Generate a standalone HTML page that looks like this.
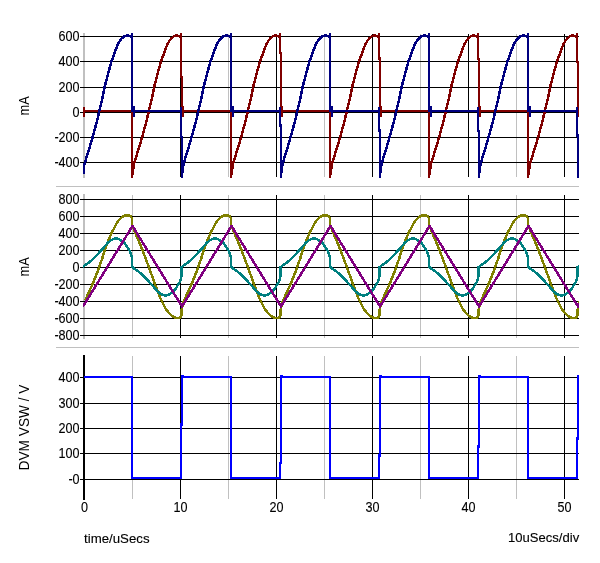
<!DOCTYPE html>
<html><head><meta charset="utf-8"><title>Waveforms</title>
<style>html,body{margin:0;padding:0;background:#fff;} svg{display:block;}</style>
</head><body>
<svg width="600" height="563" viewBox="0 0 600 563">
<defs>
<clipPath id="c1"><rect x="83" y="30" width="496" height="150"/></clipPath>
<clipPath id="c2"><rect x="83" y="190" width="496" height="152"/></clipPath>
<clipPath id="c3"><rect x="83" y="350" width="496" height="152"/></clipPath>
</defs>
<g shape-rendering="crispEdges">
<rect x="56" y="186" width="523" height="1" fill="#c0c0c0"/>
<rect x="56" y="347" width="523" height="1" fill="#c0c0c0"/>
<rect x="83" y="33" width="2" height="145" fill="#c0c0c0"/>
<rect x="132" y="34" width="1" height="143" fill="#c0c0c0"/>
<rect x="228" y="34" width="1" height="143" fill="#c0c0c0"/>
<rect x="324" y="34" width="1" height="143" fill="#c0c0c0"/>
<rect x="420" y="34" width="1" height="143" fill="#c0c0c0"/>
<rect x="516" y="34" width="1" height="143" fill="#c0c0c0"/>
<rect x="180" y="34" width="1" height="143" fill="#000"/>
<rect x="276" y="34" width="1" height="143" fill="#000"/>
<rect x="372" y="34" width="1" height="143" fill="#000"/>
<rect x="468" y="34" width="1" height="143" fill="#000"/>
<rect x="564" y="34" width="1" height="143" fill="#000"/>
<rect x="80" y="36" width="499" height="1" fill="#000"/>
<rect x="80" y="61" width="499" height="1" fill="#000"/>
<rect x="80" y="87" width="499" height="1" fill="#000"/>
<rect x="80" y="112" width="499" height="1" fill="#000"/>
<rect x="80" y="137" width="499" height="1" fill="#000"/>
<rect x="80" y="162" width="499" height="1" fill="#000"/>
<rect x="83" y="194" width="2" height="145" fill="#c0c0c0"/>
<rect x="132" y="195" width="1" height="143" fill="#c0c0c0"/>
<rect x="228" y="195" width="1" height="143" fill="#c0c0c0"/>
<rect x="324" y="195" width="1" height="143" fill="#c0c0c0"/>
<rect x="420" y="195" width="1" height="143" fill="#c0c0c0"/>
<rect x="516" y="195" width="1" height="143" fill="#c0c0c0"/>
<rect x="180" y="195" width="1" height="143" fill="#000"/>
<rect x="276" y="195" width="1" height="143" fill="#000"/>
<rect x="372" y="195" width="1" height="143" fill="#000"/>
<rect x="468" y="195" width="1" height="143" fill="#000"/>
<rect x="564" y="195" width="1" height="143" fill="#000"/>
<rect x="80" y="199" width="499" height="1" fill="#000"/>
<rect x="80" y="216" width="499" height="1" fill="#000"/>
<rect x="80" y="233" width="499" height="1" fill="#000"/>
<rect x="80" y="250" width="499" height="1" fill="#000"/>
<rect x="80" y="267" width="499" height="1" fill="#000"/>
<rect x="80" y="284" width="499" height="1" fill="#000"/>
<rect x="80" y="301" width="499" height="1" fill="#000"/>
<rect x="80" y="318" width="499" height="1" fill="#000"/>
<rect x="80" y="335" width="499" height="1" fill="#000"/>
<rect x="83" y="355" width="2" height="145" fill="#000000"/>
<rect x="132" y="356" width="1" height="143" fill="#c0c0c0"/>
<rect x="228" y="356" width="1" height="143" fill="#c0c0c0"/>
<rect x="324" y="356" width="1" height="143" fill="#c0c0c0"/>
<rect x="420" y="356" width="1" height="143" fill="#c0c0c0"/>
<rect x="516" y="356" width="1" height="143" fill="#c0c0c0"/>
<rect x="180" y="356" width="1" height="143" fill="#000"/>
<rect x="276" y="356" width="1" height="143" fill="#000"/>
<rect x="372" y="356" width="1" height="143" fill="#000"/>
<rect x="468" y="356" width="1" height="143" fill="#000"/>
<rect x="564" y="356" width="1" height="143" fill="#000"/>
<rect x="80" y="377" width="499" height="1" fill="#000"/>
<rect x="80" y="403" width="499" height="1" fill="#000"/>
<rect x="80" y="428" width="499" height="1" fill="#000"/>
<rect x="80" y="453" width="499" height="1" fill="#000"/>
<rect x="80" y="479" width="499" height="1" fill="#000"/>
</g>
<g fill="none" stroke-width="2.5" stroke-linejoin="round" stroke-linecap="butt" shape-rendering="crispEdges">
<g clip-path="url(#c1)">
<path d="M84 107 L84 115.5 L84 111 L84 111 L132 111 L132 111 L132 176.5 L133 170.54 L133.5 167.24 L134 163.95 L134.5 162.27 L135 160.59 L135.5 158.91 L136 157.23 L136.5 155.66 L137 154.09 L137.5 152.52 L138 150.95 L138.5 149.38 L139 147.68 L139.5 145.99 L140 144.29 L140.5 142.6 L141 140.9 L141.5 139.21 L142 137.51 L142.5 135.82 L143 133.96 L143.5 132.11 L144 130.25 L144.5 128.39 L145 126.54 L145.5 124.68 L146 122.83 L146.5 120.97 L147 118.96 L147.5 116.73 L148 114.49 L148.5 112.26 L149 110.19 L149.5 108.22 L150 106.25 L150.5 104.29 L151 102.32 L151.5 100.36 L152 97.92 L152.5 95.35 L153 92.79 L153.5 90.23 L154 87.67 L154.5 85.7 L155 83.73 L155.5 81.76 L156 79.79 L156.5 77.82 L157 75.85 L157.5 73.88 L158 72.05 L158.5 70.26 L159 68.47 L159.5 66.69 L160 64.9 L160.5 63.11 L161 61.32 L161.5 60.01 L162 58.7 L162.5 57.39 L163 56.08 L163.5 54.77 L164 53.46 L164.5 51.72 L165 49.98 L165.5 48.87 L166 47.69 L166.5 46.5 L167 45.32 L167.5 44.14 L168 43.27 L168.5 42.41 L169 41.55 L169.5 40.69 L170 39.83 L170.5 39.44 L171 38.75 L171.5 38.27 L172 37.85 L172.5 37.42 L173 37 L173.5 36.64 L174 36.33 L174.5 36.01 L175 35.86 L175.5 35.76 L176 35.65 L176.5 35.58 L177 35.63 L177.5 35.68 L178 35.73 L178.5 35.78 L179 35.85 L179.5 36.01 L180 36.17 L179.5 36.6 L180.4 36.6 M181 33.1 L181 77 L182 77 L182 111 L183 111 L183 107 L183 116 L183 111 L181 111 L231 111 L231 111 L231 176.5 L232 170.54 L232.5 167.24 L233 163.95 L233.5 162.27 L234 160.59 L234.5 158.91 L235 157.23 L235.5 155.66 L236 154.09 L236.5 152.52 L237 150.95 L237.5 149.38 L238 147.68 L238.5 145.99 L239 144.29 L239.5 142.6 L240 140.9 L240.5 139.21 L241 137.51 L241.5 135.82 L242 133.96 L242.5 132.11 L243 130.25 L243.5 128.39 L244 126.54 L244.5 124.68 L245 122.83 L245.5 120.97 L246 118.96 L246.5 116.73 L247 114.49 L247.5 112.26 L248 110.19 L248.5 108.22 L249 106.25 L249.5 104.29 L250 102.32 L250.5 100.36 L251 97.92 L251.5 95.35 L252 92.79 L252.5 90.23 L253 87.67 L253.5 85.7 L254 83.73 L254.5 81.76 L255 79.79 L255.5 77.82 L256 75.85 L256.5 73.88 L257 72.05 L257.5 70.26 L258 68.47 L258.5 66.69 L259 64.9 L259.5 63.11 L260 61.32 L260.5 60.01 L261 58.7 L261.5 57.39 L262 56.08 L262.5 54.77 L263 53.46 L263.5 51.72 L264 49.98 L264.5 48.87 L265 47.69 L265.5 46.5 L266 45.32 L266.5 44.14 L267 43.27 L267.5 42.41 L268 41.55 L268.5 40.69 L269 39.83 L269.5 39.44 L270 38.75 L270.5 38.27 L271 37.85 L271.5 37.42 L272 37 L272.5 36.64 L273 36.33 L273.5 36.01 L274 35.86 L274.5 35.76 L275 35.65 L275.5 35.58 L276 35.63 L276.5 35.68 L277 35.73 L277.5 35.78 L278 35.85 L278.5 36.01 L279 36.17 L278.5 36.6 L279.4 36.6 M280 33.1 L280 53 L281 53 L281 111 L282 111 L282 107 L282 116 L282 111 L280 111 L330 111 L330 111 L330 176.5 L331 170.54 L331.5 167.24 L332 163.95 L332.5 162.27 L333 160.59 L333.5 158.91 L334 157.23 L334.5 155.66 L335 154.09 L335.5 152.52 L336 150.95 L336.5 149.38 L337 147.68 L337.5 145.99 L338 144.29 L338.5 142.6 L339 140.9 L339.5 139.21 L340 137.51 L340.5 135.82 L341 133.96 L341.5 132.11 L342 130.25 L342.5 128.39 L343 126.54 L343.5 124.68 L344 122.83 L344.5 120.97 L345 118.96 L345.5 116.73 L346 114.49 L346.5 112.26 L347 110.19 L347.5 108.22 L348 106.25 L348.5 104.29 L349 102.32 L349.5 100.36 L350 97.92 L350.5 95.35 L351 92.79 L351.5 90.23 L352 87.67 L352.5 85.7 L353 83.73 L353.5 81.76 L354 79.79 L354.5 77.82 L355 75.85 L355.5 73.88 L356 72.05 L356.5 70.26 L357 68.47 L357.5 66.69 L358 64.9 L358.5 63.11 L359 61.32 L359.5 60.01 L360 58.7 L360.5 57.39 L361 56.08 L361.5 54.77 L362 53.46 L362.5 51.72 L363 49.98 L363.5 48.87 L364 47.69 L364.5 46.5 L365 45.32 L365.5 44.14 L366 43.27 L366.5 42.41 L367 41.55 L367.5 40.69 L368 39.83 L368.5 39.44 L369 38.75 L369.5 38.27 L370 37.85 L370.5 37.42 L371 37 L371.5 36.64 L372 36.33 L372.5 36.01 L373 35.86 L373.5 35.76 L374 35.65 L374.5 35.58 L375 35.63 L375.5 35.68 L376 35.73 L376.5 35.78 L377 35.85 L377.5 36.01 L378 36.17 L377.5 36.6 L378.4 36.6 M379 33.1 L379 58.5 L380 58.5 L380 111 L381 111 L381 107 L381 116 L381 111 L379 111 L429 111 L429 111 L429 176.5 L430 170.54 L430.5 167.24 L431 163.95 L431.5 162.27 L432 160.59 L432.5 158.91 L433 157.23 L433.5 155.66 L434 154.09 L434.5 152.52 L435 150.95 L435.5 149.38 L436 147.68 L436.5 145.99 L437 144.29 L437.5 142.6 L438 140.9 L438.5 139.21 L439 137.51 L439.5 135.82 L440 133.96 L440.5 132.11 L441 130.25 L441.5 128.39 L442 126.54 L442.5 124.68 L443 122.83 L443.5 120.97 L444 118.96 L444.5 116.73 L445 114.49 L445.5 112.26 L446 110.19 L446.5 108.22 L447 106.25 L447.5 104.29 L448 102.32 L448.5 100.36 L449 97.92 L449.5 95.35 L450 92.79 L450.5 90.23 L451 87.67 L451.5 85.7 L452 83.73 L452.5 81.76 L453 79.79 L453.5 77.82 L454 75.85 L454.5 73.88 L455 72.05 L455.5 70.26 L456 68.47 L456.5 66.69 L457 64.9 L457.5 63.11 L458 61.32 L458.5 60.01 L459 58.7 L459.5 57.39 L460 56.08 L460.5 54.77 L461 53.46 L461.5 51.72 L462 49.98 L462.5 48.87 L463 47.69 L463.5 46.5 L464 45.32 L464.5 44.14 L465 43.27 L465.5 42.41 L466 41.55 L466.5 40.69 L467 39.83 L467.5 39.44 L468 38.75 L468.5 38.27 L469 37.85 L469.5 37.42 L470 37 L470.5 36.64 L471 36.33 L471.5 36.01 L472 35.86 L472.5 35.76 L473 35.65 L473.5 35.58 L474 35.63 L474.5 35.68 L475 35.73 L475.5 35.78 L476 35.85 L476.5 36.01 L477 36.17 L476.5 36.6 L477.4 36.6 M478 33.1 L478 59 L479 59 L479 111 L480 111 L480 107 L480 116 L480 111 L478 111 L528 111 L528 111 L528 176.5 L529 170.54 L529.5 167.24 L530 163.95 L530.5 162.27 L531 160.59 L531.5 158.91 L532 157.23 L532.5 155.66 L533 154.09 L533.5 152.52 L534 150.95 L534.5 149.38 L535 147.68 L535.5 145.99 L536 144.29 L536.5 142.6 L537 140.9 L537.5 139.21 L538 137.51 L538.5 135.82 L539 133.96 L539.5 132.11 L540 130.25 L540.5 128.39 L541 126.54 L541.5 124.68 L542 122.83 L542.5 120.97 L543 118.96 L543.5 116.73 L544 114.49 L544.5 112.26 L545 110.19 L545.5 108.22 L546 106.25 L546.5 104.29 L547 102.32 L547.5 100.36 L548 97.92 L548.5 95.35 L549 92.79 L549.5 90.23 L550 87.67 L550.5 85.7 L551 83.73 L551.5 81.76 L552 79.79 L552.5 77.82 L553 75.85 L553.5 73.88 L554 72.05 L554.5 70.26 L555 68.47 L555.5 66.69 L556 64.9 L556.5 63.11 L557 61.32 L557.5 60.01 L558 58.7 L558.5 57.39 L559 56.08 L559.5 54.77 L560 53.46 L560.5 51.72 L561 49.98 L561.5 48.87 L562 47.69 L562.5 46.5 L563 45.32 L563.5 44.14 L564 43.27 L564.5 42.41 L565 41.55 L565.5 40.69 L566 39.83 L566.5 39.44 L567 38.75 L567.5 38.27 L568 37.85 L568.5 37.42 L569 37 L569.5 36.64 L570 36.33 L570.5 36.01 L571 35.86 L571.5 35.76 L572 35.65 L572.5 35.58 L573 35.63 L573.5 35.68 L574 35.73 L574.5 35.78 L575 35.85 L575.5 36.01 L576 36.17 L575.5 36.6 L576.4 36.6 M577 33.1 L577 62 L578 62 L578 111 L579 111 L579 107 L579 116 L579 111 L577 111 L627 111" stroke="#800000"/>
<path d="M84 173.5 L84 166 L85.1 161.93 L85.6 160.25 L86.1 158.57 L86.6 156.92 L87.1 155.35 L87.6 153.78 L88.1 152.2 L88.6 150.63 L89.1 149.04 L89.6 147.34 L90.1 145.65 L90.6 143.95 L91.1 142.26 L91.6 140.56 L92.1 138.87 L92.6 137.18 L93.1 135.45 L93.6 133.59 L94.1 131.74 L94.6 129.88 L95.1 128.02 L95.6 126.17 L96.1 124.31 L96.6 122.45 L97.1 120.6 L97.6 118.52 L98.1 116.28 L98.6 114.05 L99.1 111.81 L99.6 109.79 L100.1 107.83 L100.6 105.86 L101.1 103.9 L101.6 101.93 L102.1 99.96 L102.6 97.4 L103.1 94.84 L103.6 92.28 L104.1 89.72 L104.6 87.28 L105.1 85.31 L105.6 83.34 L106.1 81.37 L106.6 79.4 L107.1 77.42 L107.6 75.45 L108.1 73.48 L108.6 71.69 L109.1 69.91 L109.6 68.12 L110.1 66.33 L110.6 64.54 L111.1 62.75 L111.6 61.06 L112.1 59.75 L112.6 58.44 L113.1 57.13 L113.6 55.82 L114.1 54.51 L114.6 53.12 L115.1 51.37 L115.6 49.93 L116.1 48.64 L116.6 47.45 L117.1 46.27 L117.6 45.08 L118.1 43.96 L118.6 43.1 L119.1 42.24 L119.6 41.38 L120.1 40.52 L120.6 39.99 L121.1 39.3 L121.6 38.61 L122.1 38.18 L122.6 37.76 L123.1 37.34 L123.6 36.92 L124.1 36.58 L124.6 36.26 L125.1 35.95 L125.6 35.84 L126.1 35.74 L126.6 35.63 L127.1 35.59 L127.6 35.64 L128.1 35.69 L128.6 35.74 L129.1 35.79 L129.6 35.88 L130.1 36.04 L130.5 36.6 L131.4 36.6 M132 33.1 L132 111 L134 111 L134 107 L134 116 L134 111 L132 111 L181 111 M181 106.5 L181 137 L182 137 L182 176.5 L182.5 170.54 L183 167.24 L183.5 163.95 L184 162.27 L184.5 160.59 L185 158.91 L185.5 157.23 L186 155.66 L186.5 154.09 L187 152.52 L187.5 150.95 L188 149.38 L188.5 147.68 L189 145.99 L189.5 144.29 L190 142.6 L190.5 140.9 L191 139.21 L191.5 137.51 L192 135.82 L192.5 133.96 L193 132.11 L193.5 130.25 L194 128.39 L194.5 126.54 L195 124.68 L195.5 122.83 L196 120.97 L196.5 118.96 L197 116.73 L197.5 114.49 L198 112.26 L198.5 110.19 L199 108.22 L199.5 106.25 L200 104.29 L200.5 102.32 L201 100.36 L201.5 97.92 L202 95.35 L202.5 92.79 L203 90.23 L203.5 87.67 L204 85.7 L204.5 83.73 L205 81.76 L205.5 79.79 L206 77.82 L206.5 75.85 L207 73.88 L207.5 72.05 L208 70.26 L208.5 68.47 L209 66.69 L209.5 64.9 L210 63.11 L210.5 61.32 L211 60.01 L211.5 58.7 L212 57.39 L212.5 56.08 L213 54.77 L213.5 53.46 L214 51.72 L214.5 49.98 L215 48.87 L215.5 47.69 L216 46.5 L216.5 45.32 L217 44.14 L217.5 43.27 L218 42.41 L218.5 41.55 L219 40.69 L219.5 39.83 L220 39.44 L220.5 38.75 L221 38.27 L221.5 37.85 L222 37.42 L222.5 37 L223 36.64 L223.5 36.33 L224 36.01 L224.5 35.86 L225 35.76 L225.5 35.65 L226 35.58 L226.5 35.63 L227 35.68 L227.5 35.73 L228 35.78 L228.5 35.85 L229 36.01 L229.5 36.17 L229.5 36.6 L230.4 36.6 M231 33.1 L231 111 L233 111 L233 107 L233 116 L233 111 L231 111 L280 111 M280 106.5 L280 125.5 L281 125.5 L281 176.5 L281.5 170.54 L282 167.24 L282.5 163.95 L283 162.27 L283.5 160.59 L284 158.91 L284.5 157.23 L285 155.66 L285.5 154.09 L286 152.52 L286.5 150.95 L287 149.38 L287.5 147.68 L288 145.99 L288.5 144.29 L289 142.6 L289.5 140.9 L290 139.21 L290.5 137.51 L291 135.82 L291.5 133.96 L292 132.11 L292.5 130.25 L293 128.39 L293.5 126.54 L294 124.68 L294.5 122.83 L295 120.97 L295.5 118.96 L296 116.73 L296.5 114.49 L297 112.26 L297.5 110.19 L298 108.22 L298.5 106.25 L299 104.29 L299.5 102.32 L300 100.36 L300.5 97.92 L301 95.35 L301.5 92.79 L302 90.23 L302.5 87.67 L303 85.7 L303.5 83.73 L304 81.76 L304.5 79.79 L305 77.82 L305.5 75.85 L306 73.88 L306.5 72.05 L307 70.26 L307.5 68.47 L308 66.69 L308.5 64.9 L309 63.11 L309.5 61.32 L310 60.01 L310.5 58.7 L311 57.39 L311.5 56.08 L312 54.77 L312.5 53.46 L313 51.72 L313.5 49.98 L314 48.87 L314.5 47.69 L315 46.5 L315.5 45.32 L316 44.14 L316.5 43.27 L317 42.41 L317.5 41.55 L318 40.69 L318.5 39.83 L319 39.44 L319.5 38.75 L320 38.27 L320.5 37.85 L321 37.42 L321.5 37 L322 36.64 L322.5 36.33 L323 36.01 L323.5 35.86 L324 35.76 L324.5 35.65 L325 35.58 L325.5 35.63 L326 35.68 L326.5 35.73 L327 35.78 L327.5 35.85 L328 36.01 L328.5 36.17 L328.5 36.6 L329.4 36.6 M330 33.1 L330 111 L332 111 L332 107 L332 116 L332 111 L330 111 L379 111 M379 106.5 L379 130.5 L380 130.5 L380 176.5 L380.5 170.54 L381 167.24 L381.5 163.95 L382 162.27 L382.5 160.59 L383 158.91 L383.5 157.23 L384 155.66 L384.5 154.09 L385 152.52 L385.5 150.95 L386 149.38 L386.5 147.68 L387 145.99 L387.5 144.29 L388 142.6 L388.5 140.9 L389 139.21 L389.5 137.51 L390 135.82 L390.5 133.96 L391 132.11 L391.5 130.25 L392 128.39 L392.5 126.54 L393 124.68 L393.5 122.83 L394 120.97 L394.5 118.96 L395 116.73 L395.5 114.49 L396 112.26 L396.5 110.19 L397 108.22 L397.5 106.25 L398 104.29 L398.5 102.32 L399 100.36 L399.5 97.92 L400 95.35 L400.5 92.79 L401 90.23 L401.5 87.67 L402 85.7 L402.5 83.73 L403 81.76 L403.5 79.79 L404 77.82 L404.5 75.85 L405 73.88 L405.5 72.05 L406 70.26 L406.5 68.47 L407 66.69 L407.5 64.9 L408 63.11 L408.5 61.32 L409 60.01 L409.5 58.7 L410 57.39 L410.5 56.08 L411 54.77 L411.5 53.46 L412 51.72 L412.5 49.98 L413 48.87 L413.5 47.69 L414 46.5 L414.5 45.32 L415 44.14 L415.5 43.27 L416 42.41 L416.5 41.55 L417 40.69 L417.5 39.83 L418 39.44 L418.5 38.75 L419 38.27 L419.5 37.85 L420 37.42 L420.5 37 L421 36.64 L421.5 36.33 L422 36.01 L422.5 35.86 L423 35.76 L423.5 35.65 L424 35.58 L424.5 35.63 L425 35.68 L425.5 35.73 L426 35.78 L426.5 35.85 L427 36.01 L427.5 36.17 L427.5 36.6 L428.4 36.6 M429 33.1 L429 111 L431 111 L431 107 L431 116 L431 111 L429 111 L478 111 M478 106.5 L478 131 L479 131 L479 176.5 L479.5 170.54 L480 167.24 L480.5 163.95 L481 162.27 L481.5 160.59 L482 158.91 L482.5 157.23 L483 155.66 L483.5 154.09 L484 152.52 L484.5 150.95 L485 149.38 L485.5 147.68 L486 145.99 L486.5 144.29 L487 142.6 L487.5 140.9 L488 139.21 L488.5 137.51 L489 135.82 L489.5 133.96 L490 132.11 L490.5 130.25 L491 128.39 L491.5 126.54 L492 124.68 L492.5 122.83 L493 120.97 L493.5 118.96 L494 116.73 L494.5 114.49 L495 112.26 L495.5 110.19 L496 108.22 L496.5 106.25 L497 104.29 L497.5 102.32 L498 100.36 L498.5 97.92 L499 95.35 L499.5 92.79 L500 90.23 L500.5 87.67 L501 85.7 L501.5 83.73 L502 81.76 L502.5 79.79 L503 77.82 L503.5 75.85 L504 73.88 L504.5 72.05 L505 70.26 L505.5 68.47 L506 66.69 L506.5 64.9 L507 63.11 L507.5 61.32 L508 60.01 L508.5 58.7 L509 57.39 L509.5 56.08 L510 54.77 L510.5 53.46 L511 51.72 L511.5 49.98 L512 48.87 L512.5 47.69 L513 46.5 L513.5 45.32 L514 44.14 L514.5 43.27 L515 42.41 L515.5 41.55 L516 40.69 L516.5 39.83 L517 39.44 L517.5 38.75 L518 38.27 L518.5 37.85 L519 37.42 L519.5 37 L520 36.64 L520.5 36.33 L521 36.01 L521.5 35.86 L522 35.76 L522.5 35.65 L523 35.58 L523.5 35.63 L524 35.68 L524.5 35.73 L525 35.78 L525.5 35.85 L526 36.01 L526.5 36.17 L526.5 36.6 L527.4 36.6 M528 33.1 L528 111 L530 111 L530 107 L530 116 L530 111 L528 111 L577 111 M577 106.5 L577 135.5 L578 135.5 L578 176.5 L578.5 170.54 L579 167.24 L579.5 163.95 L580 162.27 L580.5 160.59 L581 158.91 L581.5 157.23 L582 155.66 L582.5 154.09 L583 152.52 L583.5 150.95 L584 149.38 L584.5 147.68 L585 145.99 L585.5 144.29 L586 142.6 L586.5 140.9 L587 139.21 L587.5 137.51 L588 135.82 L588.5 133.96 L589 132.11 L589.5 130.25 L590 128.39 L590.5 126.54 L591 124.68 L591.5 122.83 L592 120.97 L592.5 118.96 L593 116.73 L593.5 114.49 L594 112.26 L594.5 110.19 L595 108.22 L595.5 106.25 L596 104.29 L596.5 102.32 L597 100.36 L597.5 97.92 L598 95.35 L598.5 92.79 L599 90.23 L599.5 87.67 L600 85.7 L600.5 83.73 L601 81.76 L601.5 79.79 L602 77.82 L602.5 75.85 L603 73.88 L603.5 72.05 L604 70.26 L604.5 68.47 L605 66.69 L605.5 64.9 L606 63.11 L606.5 61.32 L607 60.01 L607.5 58.7 L608 57.39 L608.5 56.08 L609 54.77 L609.5 53.46 L610 51.72 L610.5 49.98 L611 48.87 L611.5 47.69 L612 46.5 L612.5 45.32 L613 44.14 L613.5 43.27 L614 42.41 L614.5 41.55 L615 40.69 L615.5 39.83 L616 39.44 L616.5 38.75 L617 38.27 L617.5 37.85 L618 37.42 L618.5 37 L619 36.64 L619.5 36.33 L620 36.01 L620.5 35.86 L621 35.76 L621.5 35.65 L622 35.58 L622.5 35.63 L623 35.68 L623.5 35.73 L624 35.78 L624.5 35.85 L625 36.01 L625.5 36.17 L625.5 36.6 L626.4 36.6 M627 33.1 L627 111 L629 111 L629 107 L629 116 L629 111" stroke="#000080"/>
</g>
<g clip-path="url(#c2)">
<path d="M85 300.72 L85.5 299.6 L86 298.47 L86.5 297.35 L87 296.29 L87.5 295.24 L88 294.18 L88.5 293.13 L89 292.07 L89.5 290.94 L90 289.8 L90.5 288.66 L91 287.53 L91.5 286.39 L92 285.25 L92.5 284.12 L93 282.98 L93.5 281.73 L94 280.49 L94.5 279.24 L95 278 L95.5 276.75 L96 275.51 L96.5 274.26 L97 273.02 L97.5 271.67 L98 270.17 L98.5 268.67 L99 267.17 L99.5 265.78 L100 264.46 L100.5 263.15 L101 261.83 L101.5 260.51 L102 259.19 L102.5 257.55 L103 255.83 L103.5 254.12 L104 252.4 L104.5 250.68 L105 249.36 L105.5 248.04 L106 246.71 L106.5 245.39 L107 244.07 L107.5 242.75 L108 241.42 L108.5 240.2 L109 239 L109.5 237.8 L110 236.6 L110.5 235.4 L111 234.2 L111.5 233 L112 232.12 L112.5 231.24 L113 230.37 L113.5 229.49 L114 228.61 L114.5 227.73 L115 226.56 L115.5 225.39 L116 224.45 L116.5 223.65 L117 222.86 L117.5 222.06 L118 221.27 L118.5 220.69 L119 220.11 L119.5 219.54 L120 218.96 L120.5 218.38 L121 217.92 L121.5 217.45 L122 217.13 L122.5 216.85 L123 216.57 L123.5 216.28 L124 216.04 L124.5 215.83 L125 215.62 L125.5 215.52 L126 215.45 L126.5 215.38 L127 215.33 L127.5 215.36 L128 215.39 L128.5 215.43 L129 215.46 L129.5 215.51 L130 215.87 L130.5 216.23 L131 216.85 L131.5 217.44 L132 218.55 L132 226.84 L132.5 226.33 L133 227.44 L133.5 228.62 L134 229.8 L134.5 230.97 L135 232.15 L135.5 233.33 L136 234.51 L136.5 235.69 L137 236.87 L137.5 238.05 L138 239.22 L138.5 240.44 L139 241.66 L139.5 242.87 L140 244.09 L140.5 245.31 L141 246.52 L141.5 247.74 L142 248.96 L142.5 250.27 L143 251.58 L143.5 252.89 L144 254.2 L144.5 255.52 L145 256.83 L145.5 258.15 L146 259.47 L146.5 260.79 L147 262.11 L147.5 263.43 L148 264.83 L148.5 266.23 L149 267.64 L149.5 269.04 L150 270.44 L150.5 271.85 L151 273.25 L151.5 274.58 L152 275.88 L152.5 277.19 L153 278.49 L153.5 279.88 L154 281.28 L154.5 282.67 L155 284.06 L155.5 285.45 L156 286.85 L156.5 288.24 L157 289.63 L157.5 291 L158 292.25 L158.5 293.51 L159 294.76 L159.5 296.02 L160 297.27 L160.5 298.31 L161 299.35 L161.5 300.39 L162 301.43 L162.5 302.47 L163 303.51 L163.5 304.48 L164 305.46 L164.5 306.44 L165 307.41 L165.5 308.39 L166 309.1 L166.5 309.75 L167 310.4 L167.5 311.05 L168 311.7 L168.5 312.35 L169 312.9 L169.5 313.38 L170 313.86 L170.5 314.34 L171 314.82 L171.5 315.3 L172 315.78 L172.5 316.26 L173 316.74 L173.5 317.1 L174 317.27 L174.5 317.45 L175 317.62 L175.5 317.8 L176 317.98 L176.5 318.06 L177 318 L177.5 317.95 L178 317.89 L178.5 317.83 L179 317.97 L179.5 318.1 L180 317.6 L180.5 317.1 L181 316.14 L181.5 315.06 L181.5 309.93 L182 308.1 L182.5 306.27 L183 304.06 L183.5 301.85 L184 300.72 L184.5 299.6 L185 298.47 L185.5 297.35 L186 296.29 L186.5 295.24 L187 294.18 L187.5 293.13 L188 292.07 L188.5 290.94 L189 289.8 L189.5 288.66 L190 287.53 L190.5 286.39 L191 285.25 L191.5 284.12 L192 282.98 L192.5 281.73 L193 280.49 L193.5 279.24 L194 278 L194.5 276.75 L195 275.51 L195.5 274.26 L196 273.02 L196.5 271.67 L197 270.17 L197.5 268.67 L198 267.17 L198.5 265.78 L199 264.46 L199.5 263.15 L200 261.83 L200.5 260.51 L201 259.19 L201.5 257.55 L202 255.83 L202.5 254.12 L203 252.4 L203.5 250.68 L204 249.36 L204.5 248.04 L205 246.71 L205.5 245.39 L206 244.07 L206.5 242.75 L207 241.42 L207.5 240.2 L208 239 L208.5 237.8 L209 236.6 L209.5 235.4 L210 234.2 L210.5 233 L211 232.12 L211.5 231.24 L212 230.37 L212.5 229.49 L213 228.61 L213.5 227.73 L214 226.56 L214.5 225.39 L215 224.45 L215.5 223.65 L216 222.86 L216.5 222.06 L217 221.27 L217.5 220.69 L218 220.11 L218.5 219.54 L219 218.96 L219.5 218.38 L220 217.92 L220.5 217.45 L221 217.13 L221.5 216.85 L222 216.57 L222.5 216.28 L223 216.04 L223.5 215.83 L224 215.62 L224.5 215.52 L225 215.45 L225.5 215.38 L226 215.33 L226.5 215.36 L227 215.39 L227.5 215.43 L228 215.46 L228.5 215.51 L229 215.87 L229.5 216.23 L230 216.85 L230.5 217.44 L231 218.55 L231 226.84 L231.5 226.33 L232 227.44 L232.5 228.62 L233 229.8 L233.5 230.97 L234 232.15 L234.5 233.33 L235 234.51 L235.5 235.69 L236 236.87 L236.5 238.05 L237 239.22 L237.5 240.44 L238 241.66 L238.5 242.87 L239 244.09 L239.5 245.31 L240 246.52 L240.5 247.74 L241 248.96 L241.5 250.27 L242 251.58 L242.5 252.89 L243 254.2 L243.5 255.52 L244 256.83 L244.5 258.15 L245 259.47 L245.5 260.79 L246 262.11 L246.5 263.43 L247 264.83 L247.5 266.23 L248 267.64 L248.5 269.04 L249 270.44 L249.5 271.85 L250 273.25 L250.5 274.58 L251 275.88 L251.5 277.19 L252 278.49 L252.5 279.88 L253 281.28 L253.5 282.67 L254 284.06 L254.5 285.45 L255 286.85 L255.5 288.24 L256 289.63 L256.5 291 L257 292.25 L257.5 293.51 L258 294.76 L258.5 296.02 L259 297.27 L259.5 298.31 L260 299.35 L260.5 300.39 L261 301.43 L261.5 302.47 L262 303.51 L262.5 304.48 L263 305.46 L263.5 306.44 L264 307.41 L264.5 308.39 L265 309.1 L265.5 309.75 L266 310.4 L266.5 311.05 L267 311.7 L267.5 312.35 L268 312.9 L268.5 313.38 L269 313.86 L269.5 314.34 L270 314.82 L270.5 315.3 L271 315.78 L271.5 316.26 L272 316.74 L272.5 317.1 L273 317.27 L273.5 317.45 L274 317.62 L274.5 317.8 L275 317.98 L275.5 318.06 L276 318 L276.5 317.95 L277 317.89 L277.5 317.83 L278 317.97 L278.5 318.1 L279 317.6 L279.5 317.1 L280 316.14 L280.5 315.06 L280.5 309.93 L281 308.1 L281.5 306.27 L282 304.06 L282.5 301.85 L283 300.72 L283.5 299.6 L284 298.47 L284.5 297.35 L285 296.29 L285.5 295.24 L286 294.18 L286.5 293.13 L287 292.07 L287.5 290.94 L288 289.8 L288.5 288.66 L289 287.53 L289.5 286.39 L290 285.25 L290.5 284.12 L291 282.98 L291.5 281.73 L292 280.49 L292.5 279.24 L293 278 L293.5 276.75 L294 275.51 L294.5 274.26 L295 273.02 L295.5 271.67 L296 270.17 L296.5 268.67 L297 267.17 L297.5 265.78 L298 264.46 L298.5 263.15 L299 261.83 L299.5 260.51 L300 259.19 L300.5 257.55 L301 255.83 L301.5 254.12 L302 252.4 L302.5 250.68 L303 249.36 L303.5 248.04 L304 246.71 L304.5 245.39 L305 244.07 L305.5 242.75 L306 241.42 L306.5 240.2 L307 239 L307.5 237.8 L308 236.6 L308.5 235.4 L309 234.2 L309.5 233 L310 232.12 L310.5 231.24 L311 230.37 L311.5 229.49 L312 228.61 L312.5 227.73 L313 226.56 L313.5 225.39 L314 224.45 L314.5 223.65 L315 222.86 L315.5 222.06 L316 221.27 L316.5 220.69 L317 220.11 L317.5 219.54 L318 218.96 L318.5 218.38 L319 217.92 L319.5 217.45 L320 217.13 L320.5 216.85 L321 216.57 L321.5 216.28 L322 216.04 L322.5 215.83 L323 215.62 L323.5 215.52 L324 215.45 L324.5 215.38 L325 215.33 L325.5 215.36 L326 215.39 L326.5 215.43 L327 215.46 L327.5 215.51 L328 215.87 L328.5 216.23 L329 216.85 L329.5 217.44 L330 218.55 L330 226.84 L330.5 226.33 L331 227.44 L331.5 228.62 L332 229.8 L332.5 230.97 L333 232.15 L333.5 233.33 L334 234.51 L334.5 235.69 L335 236.87 L335.5 238.05 L336 239.22 L336.5 240.44 L337 241.66 L337.5 242.87 L338 244.09 L338.5 245.31 L339 246.52 L339.5 247.74 L340 248.96 L340.5 250.27 L341 251.58 L341.5 252.89 L342 254.2 L342.5 255.52 L343 256.83 L343.5 258.15 L344 259.47 L344.5 260.79 L345 262.11 L345.5 263.43 L346 264.83 L346.5 266.23 L347 267.64 L347.5 269.04 L348 270.44 L348.5 271.85 L349 273.25 L349.5 274.58 L350 275.88 L350.5 277.19 L351 278.49 L351.5 279.88 L352 281.28 L352.5 282.67 L353 284.06 L353.5 285.45 L354 286.85 L354.5 288.24 L355 289.63 L355.5 291 L356 292.25 L356.5 293.51 L357 294.76 L357.5 296.02 L358 297.27 L358.5 298.31 L359 299.35 L359.5 300.39 L360 301.43 L360.5 302.47 L361 303.51 L361.5 304.48 L362 305.46 L362.5 306.44 L363 307.41 L363.5 308.39 L364 309.1 L364.5 309.75 L365 310.4 L365.5 311.05 L366 311.7 L366.5 312.35 L367 312.9 L367.5 313.38 L368 313.86 L368.5 314.34 L369 314.82 L369.5 315.3 L370 315.78 L370.5 316.26 L371 316.74 L371.5 317.1 L372 317.27 L372.5 317.45 L373 317.62 L373.5 317.8 L374 317.98 L374.5 318.06 L375 318 L375.5 317.95 L376 317.89 L376.5 317.83 L377 317.97 L377.5 318.1 L378 317.6 L378.5 317.1 L379 316.14 L379.5 315.06 L379.5 309.93 L380 308.1 L380.5 306.27 L381 304.06 L381.5 301.85 L382 300.72 L382.5 299.6 L383 298.47 L383.5 297.35 L384 296.29 L384.5 295.24 L385 294.18 L385.5 293.13 L386 292.07 L386.5 290.94 L387 289.8 L387.5 288.66 L388 287.53 L388.5 286.39 L389 285.25 L389.5 284.12 L390 282.98 L390.5 281.73 L391 280.49 L391.5 279.24 L392 278 L392.5 276.75 L393 275.51 L393.5 274.26 L394 273.02 L394.5 271.67 L395 270.17 L395.5 268.67 L396 267.17 L396.5 265.78 L397 264.46 L397.5 263.15 L398 261.83 L398.5 260.51 L399 259.19 L399.5 257.55 L400 255.83 L400.5 254.12 L401 252.4 L401.5 250.68 L402 249.36 L402.5 248.04 L403 246.71 L403.5 245.39 L404 244.07 L404.5 242.75 L405 241.42 L405.5 240.2 L406 239 L406.5 237.8 L407 236.6 L407.5 235.4 L408 234.2 L408.5 233 L409 232.12 L409.5 231.24 L410 230.37 L410.5 229.49 L411 228.61 L411.5 227.73 L412 226.56 L412.5 225.39 L413 224.45 L413.5 223.65 L414 222.86 L414.5 222.06 L415 221.27 L415.5 220.69 L416 220.11 L416.5 219.54 L417 218.96 L417.5 218.38 L418 217.92 L418.5 217.45 L419 217.13 L419.5 216.85 L420 216.57 L420.5 216.28 L421 216.04 L421.5 215.83 L422 215.62 L422.5 215.52 L423 215.45 L423.5 215.38 L424 215.33 L424.5 215.36 L425 215.39 L425.5 215.43 L426 215.46 L426.5 215.51 L427 215.87 L427.5 216.23 L428 216.85 L428.5 217.44 L429 218.55 L429 226.84 L429.5 226.33 L430 227.44 L430.5 228.62 L431 229.8 L431.5 230.97 L432 232.15 L432.5 233.33 L433 234.51 L433.5 235.69 L434 236.87 L434.5 238.05 L435 239.22 L435.5 240.44 L436 241.66 L436.5 242.87 L437 244.09 L437.5 245.31 L438 246.52 L438.5 247.74 L439 248.96 L439.5 250.27 L440 251.58 L440.5 252.89 L441 254.2 L441.5 255.52 L442 256.83 L442.5 258.15 L443 259.47 L443.5 260.79 L444 262.11 L444.5 263.43 L445 264.83 L445.5 266.23 L446 267.64 L446.5 269.04 L447 270.44 L447.5 271.85 L448 273.25 L448.5 274.58 L449 275.88 L449.5 277.19 L450 278.49 L450.5 279.88 L451 281.28 L451.5 282.67 L452 284.06 L452.5 285.45 L453 286.85 L453.5 288.24 L454 289.63 L454.5 291 L455 292.25 L455.5 293.51 L456 294.76 L456.5 296.02 L457 297.27 L457.5 298.31 L458 299.35 L458.5 300.39 L459 301.43 L459.5 302.47 L460 303.51 L460.5 304.48 L461 305.46 L461.5 306.44 L462 307.41 L462.5 308.39 L463 309.1 L463.5 309.75 L464 310.4 L464.5 311.05 L465 311.7 L465.5 312.35 L466 312.9 L466.5 313.38 L467 313.86 L467.5 314.34 L468 314.82 L468.5 315.3 L469 315.78 L469.5 316.26 L470 316.74 L470.5 317.1 L471 317.27 L471.5 317.45 L472 317.62 L472.5 317.8 L473 317.98 L473.5 318.06 L474 318 L474.5 317.95 L475 317.89 L475.5 317.83 L476 317.97 L476.5 318.1 L477 317.6 L477.5 317.1 L478 316.14 L478.5 315.06 L478.5 309.93 L479 308.1 L479.5 306.27 L480 304.06 L480.5 301.85 L481 300.72 L481.5 299.6 L482 298.47 L482.5 297.35 L483 296.29 L483.5 295.24 L484 294.18 L484.5 293.13 L485 292.07 L485.5 290.94 L486 289.8 L486.5 288.66 L487 287.53 L487.5 286.39 L488 285.25 L488.5 284.12 L489 282.98 L489.5 281.73 L490 280.49 L490.5 279.24 L491 278 L491.5 276.75 L492 275.51 L492.5 274.26 L493 273.02 L493.5 271.67 L494 270.17 L494.5 268.67 L495 267.17 L495.5 265.78 L496 264.46 L496.5 263.15 L497 261.83 L497.5 260.51 L498 259.19 L498.5 257.55 L499 255.83 L499.5 254.12 L500 252.4 L500.5 250.68 L501 249.36 L501.5 248.04 L502 246.71 L502.5 245.39 L503 244.07 L503.5 242.75 L504 241.42 L504.5 240.2 L505 239 L505.5 237.8 L506 236.6 L506.5 235.4 L507 234.2 L507.5 233 L508 232.12 L508.5 231.24 L509 230.37 L509.5 229.49 L510 228.61 L510.5 227.73 L511 226.56 L511.5 225.39 L512 224.45 L512.5 223.65 L513 222.86 L513.5 222.06 L514 221.27 L514.5 220.69 L515 220.11 L515.5 219.54 L516 218.96 L516.5 218.38 L517 217.92 L517.5 217.45 L518 217.13 L518.5 216.85 L519 216.57 L519.5 216.28 L520 216.04 L520.5 215.83 L521 215.62 L521.5 215.52 L522 215.45 L522.5 215.38 L523 215.33 L523.5 215.36 L524 215.39 L524.5 215.43 L525 215.46 L525.5 215.51 L526 215.87 L526.5 216.23 L527 216.85 L527.5 217.44 L528 218.55 L528 226.84 L528.5 226.33 L529 227.44 L529.5 228.62 L530 229.8 L530.5 230.97 L531 232.15 L531.5 233.33 L532 234.51 L532.5 235.69 L533 236.87 L533.5 238.05 L534 239.22 L534.5 240.44 L535 241.66 L535.5 242.87 L536 244.09 L536.5 245.31 L537 246.52 L537.5 247.74 L538 248.96 L538.5 250.27 L539 251.58 L539.5 252.89 L540 254.2 L540.5 255.52 L541 256.83 L541.5 258.15 L542 259.47 L542.5 260.79 L543 262.11 L543.5 263.43 L544 264.83 L544.5 266.23 L545 267.64 L545.5 269.04 L546 270.44 L546.5 271.85 L547 273.25 L547.5 274.58 L548 275.88 L548.5 277.19 L549 278.49 L549.5 279.88 L550 281.28 L550.5 282.67 L551 284.06 L551.5 285.45 L552 286.85 L552.5 288.24 L553 289.63 L553.5 291 L554 292.25 L554.5 293.51 L555 294.76 L555.5 296.02 L556 297.27 L556.5 298.31 L557 299.35 L557.5 300.39 L558 301.43 L558.5 302.47 L559 303.51 L559.5 304.48 L560 305.46 L560.5 306.44 L561 307.41 L561.5 308.39 L562 309.1 L562.5 309.75 L563 310.4 L563.5 311.05 L564 311.7 L564.5 312.35 L565 312.9 L565.5 313.38 L566 313.86 L566.5 314.34 L567 314.82 L567.5 315.3 L568 315.78 L568.5 316.26 L569 316.74 L569.5 317.1 L570 317.27 L570.5 317.45 L571 317.62 L571.5 317.8 L572 317.98 L572.5 318.06 L573 318 L573.5 317.95 L574 317.89 L574.5 317.83 L575 317.97 L575.5 318.1 L576 317.6 L576.5 317.1 L577 316.14 L577.5 315.06 L577.5 309.93 L578 308.1 L578.5 306.27 L579 304.06 L579.5 301.85 L580 300.72 L580.5 299.6 L581 298.47 L581.5 297.35 L582 296.29 L582.5 295.24 L583 294.18 L583.5 293.13 L584 292.07 L584.5 290.94 L585 289.8 L585.5 288.66 L586 287.53 L586.5 286.39 L587 285.25 L587.5 284.12 L588 282.98 L588.5 281.73 L589 280.49 L589.5 279.24 L590 278 L590.5 276.75 L591 275.51 L591.5 274.26 L592 273.02 L592.5 271.67 L593 270.17 L593.5 268.67 L594 267.17 L594.5 265.78 L595 264.46 L595.5 263.15 L596 261.83 L596.5 260.51 L597 259.19 L597.5 257.55 L598 255.83 L598.5 254.12 L599 252.4 L599.5 250.68 L600 249.36 L600.5 248.04 L601 246.71 L601.5 245.39 L602 244.07 L602.5 242.75 L603 241.42 L603.5 240.2 L604 239 L604.5 237.8 L605 236.6 L605.5 235.4 L606 234.2 L606.5 233 L607 232.12 L607.5 231.24 L608 230.37 L608.5 229.49 L609 228.61 L609.5 227.73 L610 226.56 L610.5 225.39 L611 224.45 L611.5 223.65 L612 222.86 L612.5 222.06 L613 221.27 L613.5 220.69 L614 220.11 L614.5 219.54 L615 218.96 L615.5 218.38 L616 217.92 L616.5 217.45 L617 217.13 L617.5 216.85 L618 216.57 L618.5 216.28 L619 216.04 L619.5 215.83 L620 215.62 L620.5 215.52 L621 215.45 L621.5 215.38 L622 215.33 L622.5 215.36 L623 215.39 L623.5 215.43 L624 215.46 L624.5 215.51 L625 215.87 L625.5 216.23 L626 216.85 L626.5 217.44 L627 218.55" stroke="#808000"/>
<path d="M82.5 267 L83 266.7 L83.5 266.4 L84 266.04 L84.5 265.67 L85 265.31 L85.5 264.94 L86 264.58 L86.5 264.21 L87 263.85 L87.5 263.48 L88 263.12 L88.5 262.75 L89 262.35 L89.5 261.94 L90 261.54 L90.5 261.13 L91 260.73 L91.5 260.33 L92 259.92 L92.5 259.52 L93 259.02 L93.5 258.52 L94 258.03 L94.5 257.53 L95 257.03 L95.5 256.53 L96 256.02 L96.5 255.52 L97 255.01 L97.5 254.5 L98 254 L98.5 253.4 L99 252.81 L99.5 252.22 L100 251.63 L100.5 251.04 L101 250.45 L101.5 249.86 L102 249.35 L102.5 248.86 L103 248.37 L103.5 247.88 L104 247.3 L104.5 246.72 L105 246.14 L105.5 245.56 L106 244.98 L106.5 244.4 L107 243.82 L107.5 243.24 L108 242.69 L108.5 242.25 L109 241.8 L109.5 241.36 L110 240.92 L110.5 240.48 L111 240.25 L111.5 240.03 L112 239.8 L112.5 239.57 L113 239.35 L113.5 239.12 L114 238.96 L114.5 238.79 L115 238.63 L115.5 238.47 L116 238.3 L116.5 238.4 L117 238.57 L117.5 238.73 L118 238.9 L118.5 239.06 L119 239.22 L119.5 239.49 L120 239.82 L120.5 240.15 L121 240.49 L121.5 240.82 L122 241.15 L122.5 241.49 L123 241.82 L123.5 242.15 L124 242.61 L124.5 243.24 L125 243.88 L125.5 244.52 L126 245.16 L126.5 245.79 L127 246.52 L127.5 247.39 L128 248.26 L128.5 249.13 L129 250 L129.5 250.68 L130 251.36 L130.5 252.67 L131 253.99 L131.5 255.76 L132 257.65 L132 267 L132.5 267.3 L133 267.6 L133.5 267.96 L134 268.33 L134.5 268.69 L135 269.06 L135.5 269.42 L136 269.79 L136.5 270.15 L137 270.52 L137.5 270.88 L138 271.25 L138.5 271.65 L139 272.06 L139.5 272.46 L140 272.87 L140.5 273.27 L141 273.67 L141.5 274.08 L142 274.48 L142.5 274.98 L143 275.48 L143.5 275.97 L144 276.47 L144.5 276.97 L145 277.47 L145.5 277.98 L146 278.48 L146.5 278.99 L147 279.5 L147.5 280 L148 280.6 L148.5 281.19 L149 281.78 L149.5 282.37 L150 282.96 L150.5 283.55 L151 284.14 L151.5 284.65 L152 285.14 L152.5 285.63 L153 286.12 L153.5 286.7 L154 287.28 L154.5 287.86 L155 288.44 L155.5 289.02 L156 289.6 L156.5 290.18 L157 290.76 L157.5 291.31 L158 291.75 L158.5 292.2 L159 292.64 L159.5 293.08 L160 293.52 L160.5 293.75 L161 293.97 L161.5 294.2 L162 294.43 L162.5 294.65 L163 294.88 L163.5 295.04 L164 295.21 L164.5 295.37 L165 295.53 L165.5 295.7 L166 295.6 L166.5 295.43 L167 295.27 L167.5 295.1 L168 294.94 L168.5 294.78 L169 294.51 L169.5 294.18 L170 293.85 L170.5 293.51 L171 293.18 L171.5 292.85 L172 292.51 L172.5 292.18 L173 291.85 L173.5 291.39 L174 290.76 L174.5 290.12 L175 289.48 L175.5 288.84 L176 288.21 L176.5 287.48 L177 286.61 L177.5 285.74 L178 284.87 L178.5 284 L179 283.32 L179.5 282.64 L180 281.33 L180.5 280.01 L181 278.24 L181.5 276.35 L181.5 267 L182 266.7 L182.5 266.4 L183 266.04 L183.5 265.67 L184 265.31 L184.5 264.94 L185 264.58 L185.5 264.21 L186 263.85 L186.5 263.48 L187 263.12 L187.5 262.75 L188 262.35 L188.5 261.94 L189 261.54 L189.5 261.13 L190 260.73 L190.5 260.33 L191 259.92 L191.5 259.52 L192 259.02 L192.5 258.52 L193 258.03 L193.5 257.53 L194 257.03 L194.5 256.53 L195 256.02 L195.5 255.52 L196 255.01 L196.5 254.5 L197 254 L197.5 253.4 L198 252.81 L198.5 252.22 L199 251.63 L199.5 251.04 L200 250.45 L200.5 249.86 L201 249.35 L201.5 248.86 L202 248.37 L202.5 247.88 L203 247.3 L203.5 246.72 L204 246.14 L204.5 245.56 L205 244.98 L205.5 244.4 L206 243.82 L206.5 243.24 L207 242.69 L207.5 242.25 L208 241.8 L208.5 241.36 L209 240.92 L209.5 240.48 L210 240.25 L210.5 240.03 L211 239.8 L211.5 239.57 L212 239.35 L212.5 239.12 L213 238.96 L213.5 238.79 L214 238.63 L214.5 238.47 L215 238.3 L215.5 238.4 L216 238.57 L216.5 238.73 L217 238.9 L217.5 239.06 L218 239.22 L218.5 239.49 L219 239.82 L219.5 240.15 L220 240.49 L220.5 240.82 L221 241.15 L221.5 241.49 L222 241.82 L222.5 242.15 L223 242.61 L223.5 243.24 L224 243.88 L224.5 244.52 L225 245.16 L225.5 245.79 L226 246.52 L226.5 247.39 L227 248.26 L227.5 249.13 L228 250 L228.5 250.68 L229 251.36 L229.5 252.67 L230 253.99 L230.5 255.76 L231 257.65 L231 267 L231.5 267.3 L232 267.6 L232.5 267.96 L233 268.33 L233.5 268.69 L234 269.06 L234.5 269.42 L235 269.79 L235.5 270.15 L236 270.52 L236.5 270.88 L237 271.25 L237.5 271.65 L238 272.06 L238.5 272.46 L239 272.87 L239.5 273.27 L240 273.67 L240.5 274.08 L241 274.48 L241.5 274.98 L242 275.48 L242.5 275.97 L243 276.47 L243.5 276.97 L244 277.47 L244.5 277.98 L245 278.48 L245.5 278.99 L246 279.5 L246.5 280 L247 280.6 L247.5 281.19 L248 281.78 L248.5 282.37 L249 282.96 L249.5 283.55 L250 284.14 L250.5 284.65 L251 285.14 L251.5 285.63 L252 286.12 L252.5 286.7 L253 287.28 L253.5 287.86 L254 288.44 L254.5 289.02 L255 289.6 L255.5 290.18 L256 290.76 L256.5 291.31 L257 291.75 L257.5 292.2 L258 292.64 L258.5 293.08 L259 293.52 L259.5 293.75 L260 293.97 L260.5 294.2 L261 294.43 L261.5 294.65 L262 294.88 L262.5 295.04 L263 295.21 L263.5 295.37 L264 295.53 L264.5 295.7 L265 295.6 L265.5 295.43 L266 295.27 L266.5 295.1 L267 294.94 L267.5 294.78 L268 294.51 L268.5 294.18 L269 293.85 L269.5 293.51 L270 293.18 L270.5 292.85 L271 292.51 L271.5 292.18 L272 291.85 L272.5 291.39 L273 290.76 L273.5 290.12 L274 289.48 L274.5 288.84 L275 288.21 L275.5 287.48 L276 286.61 L276.5 285.74 L277 284.87 L277.5 284 L278 283.32 L278.5 282.64 L279 281.33 L279.5 280.01 L280 278.24 L280.5 276.35 L280.5 267 L281 266.7 L281.5 266.4 L282 266.04 L282.5 265.67 L283 265.31 L283.5 264.94 L284 264.58 L284.5 264.21 L285 263.85 L285.5 263.48 L286 263.12 L286.5 262.75 L287 262.35 L287.5 261.94 L288 261.54 L288.5 261.13 L289 260.73 L289.5 260.33 L290 259.92 L290.5 259.52 L291 259.02 L291.5 258.52 L292 258.03 L292.5 257.53 L293 257.03 L293.5 256.53 L294 256.02 L294.5 255.52 L295 255.01 L295.5 254.5 L296 254 L296.5 253.4 L297 252.81 L297.5 252.22 L298 251.63 L298.5 251.04 L299 250.45 L299.5 249.86 L300 249.35 L300.5 248.86 L301 248.37 L301.5 247.88 L302 247.3 L302.5 246.72 L303 246.14 L303.5 245.56 L304 244.98 L304.5 244.4 L305 243.82 L305.5 243.24 L306 242.69 L306.5 242.25 L307 241.8 L307.5 241.36 L308 240.92 L308.5 240.48 L309 240.25 L309.5 240.03 L310 239.8 L310.5 239.57 L311 239.35 L311.5 239.12 L312 238.96 L312.5 238.79 L313 238.63 L313.5 238.47 L314 238.3 L314.5 238.4 L315 238.57 L315.5 238.73 L316 238.9 L316.5 239.06 L317 239.22 L317.5 239.49 L318 239.82 L318.5 240.15 L319 240.49 L319.5 240.82 L320 241.15 L320.5 241.49 L321 241.82 L321.5 242.15 L322 242.61 L322.5 243.24 L323 243.88 L323.5 244.52 L324 245.16 L324.5 245.79 L325 246.52 L325.5 247.39 L326 248.26 L326.5 249.13 L327 250 L327.5 250.68 L328 251.36 L328.5 252.67 L329 253.99 L329.5 255.76 L330 257.65 L330 267 L330.5 267.3 L331 267.6 L331.5 267.96 L332 268.33 L332.5 268.69 L333 269.06 L333.5 269.42 L334 269.79 L334.5 270.15 L335 270.52 L335.5 270.88 L336 271.25 L336.5 271.65 L337 272.06 L337.5 272.46 L338 272.87 L338.5 273.27 L339 273.67 L339.5 274.08 L340 274.48 L340.5 274.98 L341 275.48 L341.5 275.97 L342 276.47 L342.5 276.97 L343 277.47 L343.5 277.98 L344 278.48 L344.5 278.99 L345 279.5 L345.5 280 L346 280.6 L346.5 281.19 L347 281.78 L347.5 282.37 L348 282.96 L348.5 283.55 L349 284.14 L349.5 284.65 L350 285.14 L350.5 285.63 L351 286.12 L351.5 286.7 L352 287.28 L352.5 287.86 L353 288.44 L353.5 289.02 L354 289.6 L354.5 290.18 L355 290.76 L355.5 291.31 L356 291.75 L356.5 292.2 L357 292.64 L357.5 293.08 L358 293.52 L358.5 293.75 L359 293.97 L359.5 294.2 L360 294.43 L360.5 294.65 L361 294.88 L361.5 295.04 L362 295.21 L362.5 295.37 L363 295.53 L363.5 295.7 L364 295.6 L364.5 295.43 L365 295.27 L365.5 295.1 L366 294.94 L366.5 294.78 L367 294.51 L367.5 294.18 L368 293.85 L368.5 293.51 L369 293.18 L369.5 292.85 L370 292.51 L370.5 292.18 L371 291.85 L371.5 291.39 L372 290.76 L372.5 290.12 L373 289.48 L373.5 288.84 L374 288.21 L374.5 287.48 L375 286.61 L375.5 285.74 L376 284.87 L376.5 284 L377 283.32 L377.5 282.64 L378 281.33 L378.5 280.01 L379 278.24 L379.5 276.35 L379.5 267 L380 266.7 L380.5 266.4 L381 266.04 L381.5 265.67 L382 265.31 L382.5 264.94 L383 264.58 L383.5 264.21 L384 263.85 L384.5 263.48 L385 263.12 L385.5 262.75 L386 262.35 L386.5 261.94 L387 261.54 L387.5 261.13 L388 260.73 L388.5 260.33 L389 259.92 L389.5 259.52 L390 259.02 L390.5 258.52 L391 258.03 L391.5 257.53 L392 257.03 L392.5 256.53 L393 256.02 L393.5 255.52 L394 255.01 L394.5 254.5 L395 254 L395.5 253.4 L396 252.81 L396.5 252.22 L397 251.63 L397.5 251.04 L398 250.45 L398.5 249.86 L399 249.35 L399.5 248.86 L400 248.37 L400.5 247.88 L401 247.3 L401.5 246.72 L402 246.14 L402.5 245.56 L403 244.98 L403.5 244.4 L404 243.82 L404.5 243.24 L405 242.69 L405.5 242.25 L406 241.8 L406.5 241.36 L407 240.92 L407.5 240.48 L408 240.25 L408.5 240.03 L409 239.8 L409.5 239.57 L410 239.35 L410.5 239.12 L411 238.96 L411.5 238.79 L412 238.63 L412.5 238.47 L413 238.3 L413.5 238.4 L414 238.57 L414.5 238.73 L415 238.9 L415.5 239.06 L416 239.22 L416.5 239.49 L417 239.82 L417.5 240.15 L418 240.49 L418.5 240.82 L419 241.15 L419.5 241.49 L420 241.82 L420.5 242.15 L421 242.61 L421.5 243.24 L422 243.88 L422.5 244.52 L423 245.16 L423.5 245.79 L424 246.52 L424.5 247.39 L425 248.26 L425.5 249.13 L426 250 L426.5 250.68 L427 251.36 L427.5 252.67 L428 253.99 L428.5 255.76 L429 257.65 L429 267 L429.5 267.3 L430 267.6 L430.5 267.96 L431 268.33 L431.5 268.69 L432 269.06 L432.5 269.42 L433 269.79 L433.5 270.15 L434 270.52 L434.5 270.88 L435 271.25 L435.5 271.65 L436 272.06 L436.5 272.46 L437 272.87 L437.5 273.27 L438 273.67 L438.5 274.08 L439 274.48 L439.5 274.98 L440 275.48 L440.5 275.97 L441 276.47 L441.5 276.97 L442 277.47 L442.5 277.98 L443 278.48 L443.5 278.99 L444 279.5 L444.5 280 L445 280.6 L445.5 281.19 L446 281.78 L446.5 282.37 L447 282.96 L447.5 283.55 L448 284.14 L448.5 284.65 L449 285.14 L449.5 285.63 L450 286.12 L450.5 286.7 L451 287.28 L451.5 287.86 L452 288.44 L452.5 289.02 L453 289.6 L453.5 290.18 L454 290.76 L454.5 291.31 L455 291.75 L455.5 292.2 L456 292.64 L456.5 293.08 L457 293.52 L457.5 293.75 L458 293.97 L458.5 294.2 L459 294.43 L459.5 294.65 L460 294.88 L460.5 295.04 L461 295.21 L461.5 295.37 L462 295.53 L462.5 295.7 L463 295.6 L463.5 295.43 L464 295.27 L464.5 295.1 L465 294.94 L465.5 294.78 L466 294.51 L466.5 294.18 L467 293.85 L467.5 293.51 L468 293.18 L468.5 292.85 L469 292.51 L469.5 292.18 L470 291.85 L470.5 291.39 L471 290.76 L471.5 290.12 L472 289.48 L472.5 288.84 L473 288.21 L473.5 287.48 L474 286.61 L474.5 285.74 L475 284.87 L475.5 284 L476 283.32 L476.5 282.64 L477 281.33 L477.5 280.01 L478 278.24 L478.5 276.35 L478.5 267 L479 266.7 L479.5 266.4 L480 266.04 L480.5 265.67 L481 265.31 L481.5 264.94 L482 264.58 L482.5 264.21 L483 263.85 L483.5 263.48 L484 263.12 L484.5 262.75 L485 262.35 L485.5 261.94 L486 261.54 L486.5 261.13 L487 260.73 L487.5 260.33 L488 259.92 L488.5 259.52 L489 259.02 L489.5 258.52 L490 258.03 L490.5 257.53 L491 257.03 L491.5 256.53 L492 256.02 L492.5 255.52 L493 255.01 L493.5 254.5 L494 254 L494.5 253.4 L495 252.81 L495.5 252.22 L496 251.63 L496.5 251.04 L497 250.45 L497.5 249.86 L498 249.35 L498.5 248.86 L499 248.37 L499.5 247.88 L500 247.3 L500.5 246.72 L501 246.14 L501.5 245.56 L502 244.98 L502.5 244.4 L503 243.82 L503.5 243.24 L504 242.69 L504.5 242.25 L505 241.8 L505.5 241.36 L506 240.92 L506.5 240.48 L507 240.25 L507.5 240.03 L508 239.8 L508.5 239.57 L509 239.35 L509.5 239.12 L510 238.96 L510.5 238.79 L511 238.63 L511.5 238.47 L512 238.3 L512.5 238.4 L513 238.57 L513.5 238.73 L514 238.9 L514.5 239.06 L515 239.22 L515.5 239.49 L516 239.82 L516.5 240.15 L517 240.49 L517.5 240.82 L518 241.15 L518.5 241.49 L519 241.82 L519.5 242.15 L520 242.61 L520.5 243.24 L521 243.88 L521.5 244.52 L522 245.16 L522.5 245.79 L523 246.52 L523.5 247.39 L524 248.26 L524.5 249.13 L525 250 L525.5 250.68 L526 251.36 L526.5 252.67 L527 253.99 L527.5 255.76 L528 257.65 L528 267 L528.5 267.3 L529 267.6 L529.5 267.96 L530 268.33 L530.5 268.69 L531 269.06 L531.5 269.42 L532 269.79 L532.5 270.15 L533 270.52 L533.5 270.88 L534 271.25 L534.5 271.65 L535 272.06 L535.5 272.46 L536 272.87 L536.5 273.27 L537 273.67 L537.5 274.08 L538 274.48 L538.5 274.98 L539 275.48 L539.5 275.97 L540 276.47 L540.5 276.97 L541 277.47 L541.5 277.98 L542 278.48 L542.5 278.99 L543 279.5 L543.5 280 L544 280.6 L544.5 281.19 L545 281.78 L545.5 282.37 L546 282.96 L546.5 283.55 L547 284.14 L547.5 284.65 L548 285.14 L548.5 285.63 L549 286.12 L549.5 286.7 L550 287.28 L550.5 287.86 L551 288.44 L551.5 289.02 L552 289.6 L552.5 290.18 L553 290.76 L553.5 291.31 L554 291.75 L554.5 292.2 L555 292.64 L555.5 293.08 L556 293.52 L556.5 293.75 L557 293.97 L557.5 294.2 L558 294.43 L558.5 294.65 L559 294.88 L559.5 295.04 L560 295.21 L560.5 295.37 L561 295.53 L561.5 295.7 L562 295.6 L562.5 295.43 L563 295.27 L563.5 295.1 L564 294.94 L564.5 294.78 L565 294.51 L565.5 294.18 L566 293.85 L566.5 293.51 L567 293.18 L567.5 292.85 L568 292.51 L568.5 292.18 L569 291.85 L569.5 291.39 L570 290.76 L570.5 290.12 L571 289.48 L571.5 288.84 L572 288.21 L572.5 287.48 L573 286.61 L573.5 285.74 L574 284.87 L574.5 284 L575 283.32 L575.5 282.64 L576 281.33 L576.5 280.01 L577 278.24 L577.5 276.35 L577.5 267 L578 266.7 L578.5 266.4 L579 266.04 L579.5 265.67 L580 265.31 L580.5 264.94 L581 264.58 L581.5 264.21 L582 263.85 L582.5 263.48 L583 263.12 L583.5 262.75 L584 262.35 L584.5 261.94 L585 261.54 L585.5 261.13 L586 260.73 L586.5 260.33 L587 259.92 L587.5 259.52 L588 259.02 L588.5 258.52 L589 258.03 L589.5 257.53 L590 257.03 L590.5 256.53 L591 256.02 L591.5 255.52 L592 255.01 L592.5 254.5 L593 254 L593.5 253.4 L594 252.81 L594.5 252.22 L595 251.63 L595.5 251.04 L596 250.45 L596.5 249.86 L597 249.35 L597.5 248.86 L598 248.37 L598.5 247.88 L599 247.3 L599.5 246.72 L600 246.14 L600.5 245.56 L601 244.98 L601.5 244.4 L602 243.82 L602.5 243.24 L603 242.69 L603.5 242.25 L604 241.8 L604.5 241.36 L605 240.92 L605.5 240.48 L606 240.25 L606.5 240.03 L607 239.8 L607.5 239.57 L608 239.35 L608.5 239.12 L609 238.96 L609.5 238.79 L610 238.63 L610.5 238.47 L611 238.3 L611.5 238.4 L612 238.57 L612.5 238.73 L613 238.9 L613.5 239.06 L614 239.22 L614.5 239.49 L615 239.82 L615.5 240.15 L616 240.49 L616.5 240.82 L617 241.15 L617.5 241.49 L618 241.82 L618.5 242.15 L619 242.61 L619.5 243.24 L620 243.88 L620.5 244.52 L621 245.16 L621.5 245.79 L622 246.52 L622.5 247.39 L623 248.26 L623.5 249.13 L624 250 L624.5 250.68 L625 251.36 L625.5 252.67 L626 253.99 L626.5 255.76 L627 257.65" stroke="#008080"/>
<path d="M83 306.5 L132.5 226 L182 306.5 L231.5 226 L281 306.5 L330.5 226 L380 306.5 L429.5 226 L479 306.5 L528.5 226 L578 306.5 L627.5 226" stroke="#800080"/>
</g>
<g clip-path="url(#c3)">
<path d="M84 377 L132 377 L132 478 L181 478 L181 424.5 L182 424.5 L182 376 L182.5 376 L182.5 377 L231 377 L231 478 L280 478 L280 463 L281 463 L281 376 L281.5 376 L281.5 377 L330 377 L330 478 L379 478 L379 455.5 L380 455.5 L380 376 L380.5 376 L380.5 377 L429 377 L429 478 L478 478 L478 446.5 L479 446.5 L479 376 L479.5 376 L479.5 377 L528 377 L528 478 L577 478 L577 438.5 L578 438.5 L578 376 L578.5 376 L578.5 377 L581 377" stroke="#0000ff"/>
</g>
</g>
<g font-family="'Liberation Sans', Arial, sans-serif" font-size="13" fill="#000" stroke="#000" stroke-width="0.12">
<text transform="translate(79.6 41.0) scale(0.9 1)" font-size="14" text-anchor="end">600</text>
<text transform="translate(79.6 66.0) scale(0.9 1)" font-size="14" text-anchor="end">400</text>
<text transform="translate(79.6 92.0) scale(0.9 1)" font-size="14" text-anchor="end">200</text>
<text transform="translate(79.6 117.0) scale(0.9 1)" font-size="14" text-anchor="end">0</text>
<text transform="translate(79.6 142.0) scale(0.9 1)" font-size="14" text-anchor="end">-200</text>
<text transform="translate(79.6 167.0) scale(0.9 1)" font-size="14" text-anchor="end">-400</text>
<text transform="translate(29.0 105.9) rotate(-90)" font-size="14" stroke-width="0" text-anchor="middle" textLength="19.3" lengthAdjust="spacingAndGlyphs">mA</text>
<text transform="translate(79.6 204.0) scale(0.9 1)" font-size="14" text-anchor="end">800</text>
<text transform="translate(79.6 221.0) scale(0.9 1)" font-size="14" text-anchor="end">600</text>
<text transform="translate(79.6 238.0) scale(0.9 1)" font-size="14" text-anchor="end">400</text>
<text transform="translate(79.6 255.0) scale(0.9 1)" font-size="14" text-anchor="end">200</text>
<text transform="translate(79.6 272.0) scale(0.9 1)" font-size="14" text-anchor="end">0</text>
<text transform="translate(79.6 289.0) scale(0.9 1)" font-size="14" text-anchor="end">-200</text>
<text transform="translate(79.6 306.0) scale(0.9 1)" font-size="14" text-anchor="end">-400</text>
<text transform="translate(79.6 323.0) scale(0.9 1)" font-size="14" text-anchor="end">-600</text>
<text transform="translate(79.6 340.0) scale(0.9 1)" font-size="14" text-anchor="end">-800</text>
<text transform="translate(29.0 266.9) rotate(-90)" font-size="14" stroke-width="0" text-anchor="middle" textLength="19.3" lengthAdjust="spacingAndGlyphs">mA</text>
<text transform="translate(79.6 382.0) scale(0.9 1)" font-size="14" text-anchor="end">400</text>
<text transform="translate(79.6 408.0) scale(0.9 1)" font-size="14" text-anchor="end">300</text>
<text transform="translate(79.6 433.0) scale(0.9 1)" font-size="14" text-anchor="end">200</text>
<text transform="translate(79.6 458.0) scale(0.9 1)" font-size="14" text-anchor="end">100</text>
<text transform="translate(79.6 484.0) scale(0.9 1)" font-size="14" text-anchor="end">-0</text>
<text transform="translate(29.0 427.5) rotate(-90)" font-size="14" stroke-width="0" text-anchor="middle" textLength="85.8" lengthAdjust="spacingAndGlyphs">DVM VSW / V</text>
<text transform="translate(84.5 512.0) scale(0.9 1)" font-size="14" text-anchor="middle">0</text>
<text transform="translate(180.5 512.0) scale(0.9 1)" font-size="14" text-anchor="middle">10</text>
<text transform="translate(276.5 512.0) scale(0.9 1)" font-size="14" text-anchor="middle">20</text>
<text transform="translate(372.5 512.0) scale(0.9 1)" font-size="14" text-anchor="middle">30</text>
<text transform="translate(468.5 512.0) scale(0.9 1)" font-size="14" text-anchor="middle">40</text>
<text transform="translate(564.5 512.0) scale(0.9 1)" font-size="14" text-anchor="middle">50</text>
<text x="84" y="542.8" textLength="65.6" lengthAdjust="spacingAndGlyphs">time/uSecs</text>
<text x="579.2" y="542.4" text-anchor="end" textLength="71.2" lengthAdjust="spacingAndGlyphs">10uSecs/div</text>
</g>
</svg>
</body></html>
